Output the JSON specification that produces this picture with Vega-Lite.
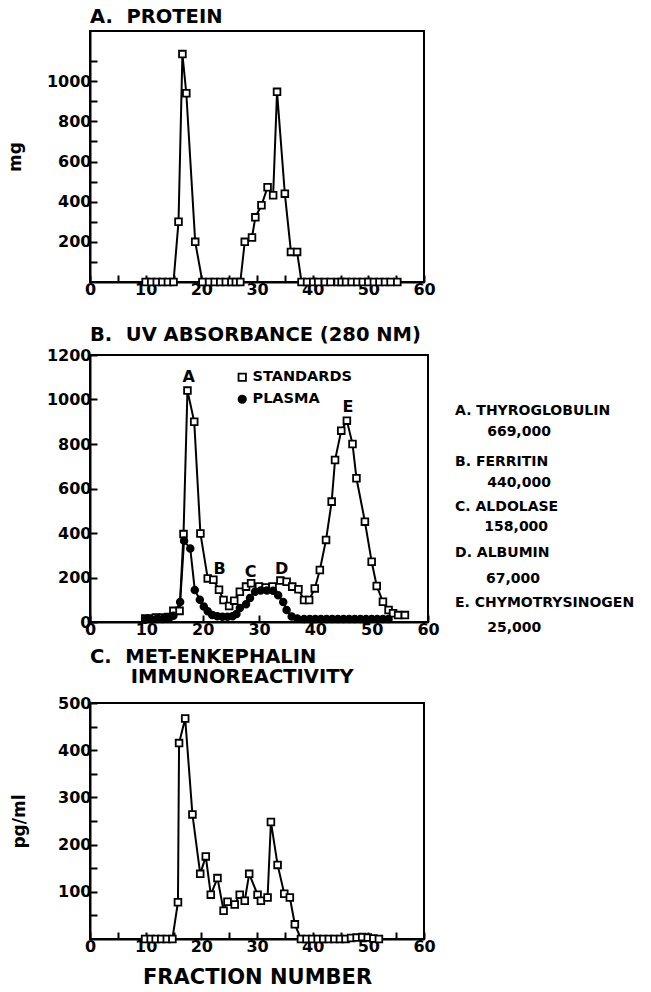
{
  "$schema": "https://vega.github.io/schema/vega-lite/v6.json",
  "background": "white",
  "padding": {"left": 5, "top": 5, "right": 5, "bottom": 5},
  "spacing": 7,
  "config": {
    "font": "DejaVu Sans",
    "view": {"stroke": "black", "strokeWidth": 2},
    "axis": {
      "domainColor": "black", "domainWidth": 2,
      "tickColor": "black", "tickWidth": 2, "tickSize": -7,
      "labelFont": "DejaVu Sans", "labelFontWeight": "bold", "labelFontSize": 16, "labelColor": "black",
      "labelPadding": 6, "labelOverlap": false, "labelFlush": false, "format": "d",
      "grid": false,
      "titleFont": "DejaVu Sans", "titleFontWeight": "bold", "titleColor": "black", "titleFontSize": 17
    },
    "title": {"font": "DejaVu Sans", "fontWeight": "bold", "fontSize": 19.5, "color": "black", "anchor": "start", "frame": "group"}
  },
  "vconcat": [
    {
      "spacing": 25,
      "vconcat": [
        {
          "title": {"text": "A.\u00a0\u00a0PROTEIN", "offset": 4},
          "width": 334, "height": 251,
          "data": {"values": [
            {"fraction": 10, "mg": 0}, {"fraction": 11, "mg": 0}, {"fraction": 12, "mg": 0}, {"fraction": 13, "mg": 0},
            {"fraction": 14, "mg": 0}, {"fraction": 15, "mg": 0}, {"fraction": 15.9, "mg": 300}, {"fraction": 16.6, "mg": 1135},
            {"fraction": 17.3, "mg": 940}, {"fraction": 18.9, "mg": 200}, {"fraction": 20.2, "mg": 0}, {"fraction": 21.4, "mg": 0},
            {"fraction": 22.4, "mg": 0}, {"fraction": 23.4, "mg": 0}, {"fraction": 24.4, "mg": 0}, {"fraction": 25.4, "mg": 0},
            {"fraction": 26.2, "mg": 0}, {"fraction": 27.0, "mg": 0}, {"fraction": 27.8, "mg": 200}, {"fraction": 29.1, "mg": 222},
            {"fraction": 29.7, "mg": 322}, {"fraction": 30.8, "mg": 382}, {"fraction": 31.9, "mg": 472}, {"fraction": 32.9, "mg": 432},
            {"fraction": 33.6, "mg": 947}, {"fraction": 35.0, "mg": 440}, {"fraction": 36.1, "mg": 150}, {"fraction": 37.2, "mg": 150},
            {"fraction": 38.0, "mg": 0}, {"fraction": 39.0, "mg": 0}, {"fraction": 40.1, "mg": 0}, {"fraction": 41.0, "mg": 0},
            {"fraction": 42.2, "mg": 0}, {"fraction": 43.2, "mg": 0}, {"fraction": 44.5, "mg": 0}, {"fraction": 45.2, "mg": 0},
            {"fraction": 46.0, "mg": 0}, {"fraction": 47.0, "mg": 0}, {"fraction": 48.0, "mg": 0}, {"fraction": 49.0, "mg": 0},
            {"fraction": 50.0, "mg": 0}, {"fraction": 51.0, "mg": 0}, {"fraction": 52.0, "mg": 0}, {"fraction": 53.0, "mg": 0},
            {"fraction": 54.0, "mg": 0}, {"fraction": 55.2, "mg": 0}
          ]},
          "encoding": {
            "x": {"field": "fraction", "type": "quantitative", "scale": {"domain": [0, 60], "nice": false},
                  "axis": {"title": null, "values": [0,5,10,15,20,25,30,35,40,45,50,55,60], "labelExpr": "datum.value % 10 == 0 ? datum.label : ''"}},
            "y": {"field": "mg", "type": "quantitative", "scale": {"domain": [0, 1250], "nice": false},
                  "axis": {"title": "mg", "titleX": -66, "values": [100,200,300,400,500,600,700,800,900,1000,1100], "labelExpr": "datum.value % 200 == 0 && datum.value <= 1000 ? datum.label : ''"}}
          },
          "layer": [
            {"mark": {"type": "line", "color": "black", "strokeWidth": 2}},
            {"mark": {"type": "point", "shape": "square", "size": 45, "filled": true, "fill": "white", "stroke": "black", "strokeWidth": 1.8, "opacity": 1}}
          ]
        },
        {
          "title": {"text": "B.\u00a0\u00a0UV ABSORBANCE (280 NM)", "offset": 2},
          "width": 338, "height": 267,
          "layer": [
            {
              "data": {"name": "uv", "values": [
                {"series": "STANDARDS", "fraction": 9.8, "abs": 16}, {"series": "STANDARDS", "fraction": 10.7, "abs": 16},
                {"series": "STANDARDS", "fraction": 11.7, "abs": 20}, {"series": "STANDARDS", "fraction": 12.9, "abs": 20},
                {"series": "STANDARDS", "fraction": 13.9, "abs": 22}, {"series": "STANDARDS", "fraction": 14.8, "abs": 50},
                {"series": "STANDARDS", "fraction": 15.9, "abs": 50}, {"series": "STANDARDS", "fraction": 16.6, "abs": 395},
                {"series": "STANDARDS", "fraction": 17.3, "abs": 1040}, {"series": "STANDARDS", "fraction": 18.5, "abs": 900},
                {"series": "STANDARDS", "fraction": 19.6, "abs": 398}, {"series": "STANDARDS", "fraction": 20.9, "abs": 196},
                {"series": "STANDARDS", "fraction": 21.9, "abs": 190}, {"series": "STANDARDS", "fraction": 22.9, "abs": 145},
                {"series": "STANDARDS", "fraction": 23.7, "abs": 99}, {"series": "STANDARDS", "fraction": 24.7, "abs": 72},
                {"series": "STANDARDS", "fraction": 25.6, "abs": 96}, {"series": "STANDARDS", "fraction": 26.6, "abs": 136},
                {"series": "STANDARDS", "fraction": 27.7, "abs": 159}, {"series": "STANDARDS", "fraction": 28.6, "abs": 174},
                {"series": "STANDARDS", "fraction": 30.0, "abs": 160}, {"series": "STANDARDS", "fraction": 31.2, "abs": 155},
                {"series": "STANDARDS", "fraction": 32.4, "abs": 160}, {"series": "STANDARDS", "fraction": 33.8, "abs": 186},
                {"series": "STANDARDS", "fraction": 34.9, "abs": 181}, {"series": "STANDARDS", "fraction": 35.9, "abs": 159},
                {"series": "STANDARDS", "fraction": 37.0, "abs": 147}, {"series": "STANDARDS", "fraction": 38.0, "abs": 99},
                {"series": "STANDARDS", "fraction": 38.9, "abs": 99}, {"series": "STANDARDS", "fraction": 39.9, "abs": 151},
                {"series": "STANDARDS", "fraction": 40.8, "abs": 234}, {"series": "STANDARDS", "fraction": 41.9, "abs": 369},
                {"series": "STANDARDS", "fraction": 42.9, "abs": 541}, {"series": "STANDARDS", "fraction": 43.5, "abs": 728},
                {"series": "STANDARDS", "fraction": 44.6, "abs": 860}, {"series": "STANDARDS", "fraction": 45.6, "abs": 905},
                {"series": "STANDARDS", "fraction": 46.6, "abs": 800}, {"series": "STANDARDS", "fraction": 47.3, "abs": 646},
                {"series": "STANDARDS", "fraction": 48.8, "abs": 451}, {"series": "STANDARDS", "fraction": 50.0, "abs": 271},
                {"series": "STANDARDS", "fraction": 50.9, "abs": 162}, {"series": "STANDARDS", "fraction": 52.0, "abs": 91},
                {"series": "STANDARDS", "fraction": 53.0, "abs": 54}, {"series": "STANDARDS", "fraction": 53.8, "abs": 39},
                {"series": "STANDARDS", "fraction": 54.7, "abs": 31}, {"series": "STANDARDS", "fraction": 55.9, "abs": 31},
                {"series": "PLASMA", "fraction": 9.8, "abs": 10}, {"series": "PLASMA", "fraction": 10.7, "abs": 12},
                {"series": "PLASMA", "fraction": 11.8, "abs": 14}, {"series": "PLASMA", "fraction": 12.9, "abs": 14},
                {"series": "PLASMA", "fraction": 13.9, "abs": 18}, {"series": "PLASMA", "fraction": 14.8, "abs": 28},
                {"series": "PLASMA", "fraction": 16.0, "abs": 90}, {"series": "PLASMA", "fraction": 16.7, "abs": 365},
                {"series": "PLASMA", "fraction": 17.8, "abs": 330}, {"series": "PLASMA", "fraction": 18.6, "abs": 144},
                {"series": "PLASMA", "fraction": 19.5, "abs": 100}, {"series": "PLASMA", "fraction": 20.2, "abs": 70},
                {"series": "PLASMA", "fraction": 20.9, "abs": 48}, {"series": "PLASMA", "fraction": 21.7, "abs": 32},
                {"series": "PLASMA", "fraction": 22.6, "abs": 26}, {"series": "PLASMA", "fraction": 23.5, "abs": 24},
                {"series": "PLASMA", "fraction": 24.4, "abs": 24}, {"series": "PLASMA", "fraction": 25.3, "abs": 26},
                {"series": "PLASMA", "fraction": 26.0, "abs": 36}, {"series": "PLASMA", "fraction": 26.6, "abs": 63},
                {"series": "PLASMA", "fraction": 27.7, "abs": 80}, {"series": "PLASMA", "fraction": 28.4, "abs": 108},
                {"series": "PLASMA", "fraction": 29.3, "abs": 136}, {"series": "PLASMA", "fraction": 30.3, "abs": 142},
                {"series": "PLASMA", "fraction": 31.4, "abs": 142}, {"series": "PLASMA", "fraction": 32.5, "abs": 140},
                {"series": "PLASMA", "fraction": 33.4, "abs": 120}, {"series": "PLASMA", "fraction": 34.3, "abs": 90},
                {"series": "PLASMA", "fraction": 34.9, "abs": 54}, {"series": "PLASMA", "fraction": 35.8, "abs": 25},
                {"series": "PLASMA", "fraction": 36.8, "abs": 16}, {"series": "PLASMA", "fraction": 38, "abs": 14},
                {"series": "PLASMA", "fraction": 39, "abs": 14}, {"series": "PLASMA", "fraction": 40, "abs": 14},
                {"series": "PLASMA", "fraction": 41, "abs": 14}, {"series": "PLASMA", "fraction": 42, "abs": 14},
                {"series": "PLASMA", "fraction": 43, "abs": 14}, {"series": "PLASMA", "fraction": 44, "abs": 14},
                {"series": "PLASMA", "fraction": 45, "abs": 14}, {"series": "PLASMA", "fraction": 46, "abs": 14},
                {"series": "PLASMA", "fraction": 47, "abs": 14}, {"series": "PLASMA", "fraction": 48, "abs": 14},
                {"series": "PLASMA", "fraction": 49, "abs": 14}, {"series": "PLASMA", "fraction": 50, "abs": 14},
                {"series": "PLASMA", "fraction": 51, "abs": 14}, {"series": "PLASMA", "fraction": 52, "abs": 14},
                {"series": "PLASMA", "fraction": 53, "abs": 14}
              ]},
              "mark": {"type": "line", "color": "black", "strokeWidth": 2},
              "encoding": {
                "x": {"field": "fraction", "type": "quantitative", "scale": {"domain": [0, 60], "nice": false},
                      "axis": {"title": null, "values": [0,5,10,15,20,25,30,35,40,45,50,55,60], "labelExpr": "datum.value % 10 == 0 ? datum.label : ''"}},
                "y": {"field": "abs", "type": "quantitative", "scale": {"domain": [0, 1200], "nice": false},
                      "axis": {"title": null, "values": [0,100,200,300,400,500,600,700,800,900,1000,1100,1200], "labelExpr": "datum.value % 200 == 0 ? datum.label : ''"}},
                "detail": {"field": "series"}
              }
            },
            {
              "data": {"name": "uv"},
              "mark": {"type": "point", "size": 45, "stroke": "black", "strokeWidth": 1.8, "opacity": 1},
              "encoding": {
                "x": {"field": "fraction", "type": "quantitative"},
                "y": {"field": "abs", "type": "quantitative"},
                "shape": {"field": "series", "type": "nominal", "scale": {"domain": ["STANDARDS", "PLASMA"], "range": ["square", "circle"]},
                          "legend": {"title": null, "orient": "none", "legendX": 145, "legendY": 339, "labelFont": "DejaVu Sans", "labelFontWeight": "bold", "labelFontSize": 14.5, "labelColor": "black", "symbolSize": 55, "symbolStrokeWidth": 1.8, "rowPadding": 6, "labelOffset": 3}},
                "fill": {"field": "series", "type": "nominal", "scale": {"domain": ["STANDARDS", "PLASMA"], "range": ["white", "black"]},
                         "legend": {"title": null, "orient": "none", "legendX": 145, "legendY": 339, "labelFont": "DejaVu Sans", "labelFontWeight": "bold", "labelFontSize": 14.5, "labelColor": "black", "symbolSize": 55, "symbolStrokeWidth": 1.8, "rowPadding": 6, "labelOffset": 3}}
              }
            },
            {
              "data": {"values": [
                {"label": "A", "fraction": 17.5, "abs": 1100},
                {"label": "B", "fraction": 23.0, "abs": 237},
                {"label": "C", "fraction": 28.5, "abs": 226},
                {"label": "D", "fraction": 34.0, "abs": 237},
                {"label": "E", "fraction": 45.8, "abs": 968}
              ]},
              "mark": {"type": "text", "font": "DejaVu Sans", "fontWeight": "bold", "fontSize": 16, "color": "black", "align": "center", "baseline": "middle"},
              "encoding": {
                "x": {"field": "fraction", "type": "quantitative"},
                "y": {"field": "abs", "type": "quantitative"},
                "text": {"field": "label"}
              }
            },
            {
              "data": {"values": [
                {"label": "A. THYROGLOBULIN", "fraction": 64.8, "abs": 948},
                {"label": "669,000", "fraction": 70.5, "abs": 854},
                {"label": "B. FERRITIN", "fraction": 64.8, "abs": 719},
                {"label": "440,000", "fraction": 70.5, "abs": 625},
                {"label": "C. ALDOLASE", "fraction": 64.8, "abs": 517},
                {"label": "158,000", "fraction": 70.0, "abs": 427},
                {"label": "D. ALBUMIN", "fraction": 64.8, "abs": 310},
                {"label": "67,000", "fraction": 70.3, "abs": 193},
                {"label": "E. CHYMOTRYSINOGEN", "fraction": 64.8, "abs": 85},
                {"label": "25,000", "fraction": 70.5, "abs": -27}
              ]},
              "mark": {"type": "text", "font": "DejaVu Sans", "fontWeight": "bold", "fontSize": 14, "color": "black", "align": "left", "baseline": "middle"},
              "encoding": {
                "x": {"field": "fraction", "type": "quantitative"},
                "y": {"field": "abs", "type": "quantitative"},
                "text": {"field": "label"}
              }
            }
          ]
        }
      ]
    },
    {
      "title": {"text": ["C.\u00a0\u00a0MET-ENKEPHALIN", "\u200b\u00a0\u00a0\u00a0\u00a0\u00a0\u00a0IMMUNOREACTIVITY"], "offset": 8, "lineHeight": 20},
      "width": 334, "height": 236,
      "data": {"values": [
        {"fraction": 9.9, "pg": 0}, {"fraction": 10.9, "pg": 0}, {"fraction": 11.8, "pg": 0}, {"fraction": 12.8, "pg": 0},
        {"fraction": 13.8, "pg": 0}, {"fraction": 14.8, "pg": 0}, {"fraction": 15.8, "pg": 78}, {"fraction": 16.0, "pg": 415},
        {"fraction": 17.1, "pg": 467}, {"fraction": 18.4, "pg": 264}, {"fraction": 19.8, "pg": 138}, {"fraction": 20.8, "pg": 175},
        {"fraction": 21.7, "pg": 94}, {"fraction": 22.9, "pg": 129}, {"fraction": 24.0, "pg": 60}, {"fraction": 24.7, "pg": 79},
        {"fraction": 26.0, "pg": 73}, {"fraction": 26.9, "pg": 94}, {"fraction": 27.8, "pg": 81}, {"fraction": 28.6, "pg": 138},
        {"fraction": 30.1, "pg": 94}, {"fraction": 30.7, "pg": 81}, {"fraction": 31.9, "pg": 88}, {"fraction": 32.5, "pg": 248},
        {"fraction": 33.7, "pg": 157}, {"fraction": 34.9, "pg": 96}, {"fraction": 35.9, "pg": 88}, {"fraction": 36.8, "pg": 31},
        {"fraction": 37.9, "pg": 0}, {"fraction": 38.9, "pg": 0}, {"fraction": 39.9, "pg": 0}, {"fraction": 40.9, "pg": 0},
        {"fraction": 41.9, "pg": 0}, {"fraction": 42.9, "pg": 0}, {"fraction": 43.9, "pg": 0}, {"fraction": 44.9, "pg": 0},
        {"fraction": 45.9, "pg": 0}, {"fraction": 46.9, "pg": 2}, {"fraction": 47.9, "pg": 3}, {"fraction": 48.9, "pg": 4},
        {"fraction": 49.9, "pg": 3}, {"fraction": 50.9, "pg": 1}, {"fraction": 51.9, "pg": 0}
      ]},
      "encoding": {
        "x": {"field": "fraction", "type": "quantitative", "scale": {"domain": [0, 60], "nice": false},
              "axis": {"title": "FRACTION NUMBER", "titleFontSize": 21, "titlePadding": 12, "values": [0,5,10,15,20,25,30,35,40,45,50,55,60], "labelExpr": "datum.value % 10 == 0 ? datum.label : ''"}},
        "y": {"field": "pg", "type": "quantitative", "scale": {"domain": [0, 500], "nice": false},
              "axis": {"title": "pg/ml", "titleX": -62, "values": [50,100,150,200,250,300,350,400,450,500], "labelExpr": "datum.value % 100 == 0 ? datum.label : ''"}}
      },
      "layer": [
        {"mark": {"type": "line", "color": "black", "strokeWidth": 2}},
        {"mark": {"type": "point", "shape": "square", "size": 45, "filled": true, "fill": "white", "stroke": "black", "strokeWidth": 1.8, "opacity": 1}}
      ]
    }
  ]
}
